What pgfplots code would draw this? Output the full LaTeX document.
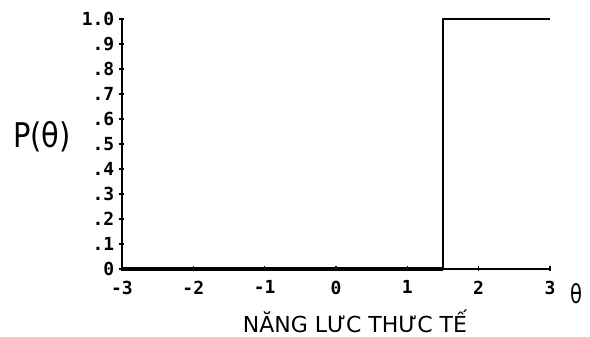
\documentclass[border=0pt]{standalone}
\usepackage{fontspec}
\setmainfont{DejaVu Sans}
\newfontfamily\tickfont{DejaVu Sans Mono}
\usepackage{graphicx}
\usepackage{pgfplots}
\pgfplotsset{compat=1.18}
\begin{document}
\begin{tikzpicture}
\useasboundingbox (-122pt,-68pt) rectangle (468pt,269pt);
\begin{axis}[
  scale only axis, width=428pt, height=250pt,
  at={(0pt,0pt)}, anchor=south west,
  xmin=-3, xmax=3, ymin=0, ymax=1,
  axis lines=left,
  axis line style={-, line width=2.5pt},
  xtick={-3,-2,-1,0,1,2,3},
  xticklabels={-3,-2,-1,0,1,2,3},
  ytick={0,0.1,0.2,0.3,0.4,0.5,0.6,0.7,0.8,0.9,1},
  yticklabels={0,.1,.2,.3,.4,.5,.6,.7,.8,.9,1.0},
  tick style={black, line width=1.5pt},
  major tick length=5pt,
  tick align=center,
  ticklabel style={font=\tickfont\bfseries\fontsize{18}{18}\selectfont, inner sep=1pt},
  xticklabel style={yshift=-8pt},
  yticklabel style={xshift=-4pt},
  clip=false,
]
\addplot[black, line width=4.5pt] coordinates {(-3,0) (1.5,0)};
\addplot[black, line width=2.2pt] coordinates {(1.5,0) (1.5,1) (3,1)};
\end{axis}
\node at (-80pt,132pt) {\scalebox{0.85}[1]{\fontsize{34}{34}\selectfont P(θ)}};
\node at (454pt,-25pt) {\scalebox{0.75}[1]{\fontsize{26}{26}\selectfont θ}};
\node[anchor=base, inner sep=0pt] at (233pt,-64pt) {\fontsize{22}{22}\selectfont NĂNG LƯC THƯC TẾ};
\end{tikzpicture}
\end{document}
